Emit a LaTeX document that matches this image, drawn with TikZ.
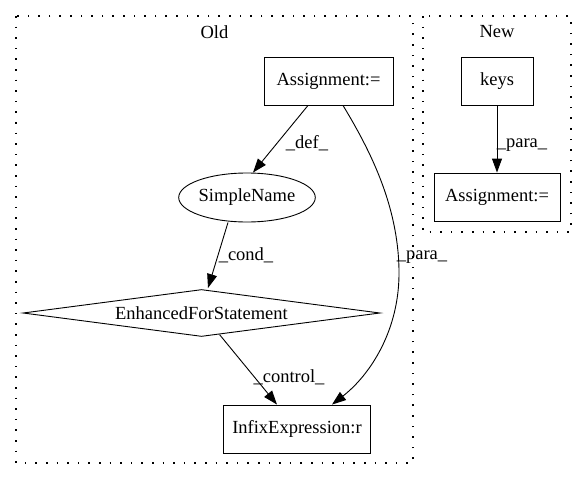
\documentclass[tikz,border=0pt]{standalone}
\usepackage{fontspec}
\setmainfont{Liberation Serif}
\usetikzlibrary{shapes.geometric,arrows.meta,calc}
\begin{document}
\begin{tikzpicture}[x=1pt,y=-1pt,
  every node/.style={font=\fontsize{18.5}{21}\selectfont, inner sep=0pt},
  box/.style={draw, rectangle, line width=0.9pt, minimum height=48pt},
  oval/.style={draw, ellipse, line width=0.9pt, minimum width=132pt, minimum height=49pt},
  dia/.style={draw, diamond, aspect=7.6, line width=0.9pt, minimum width=357pt, minimum height=47pt},
  cluster/.style={line width=1.1pt, dash pattern=on 1.6pt off 9pt},
  edge/.style={line width=0.9pt, -{Triangle[length=14pt,width=10pt]}},
  lbl/.style={font=\fontsize{18.5}{21}\selectfont}
]
\useasboundingbox (0,0) rectangle (587,480);
% clusters
\draw[cluster] (16,16) rectangle (413,463);
\draw[cluster] (423,16) rectangle (571,232);
\node (oldlbl) at (214.5,32) {Old};
\node (newlbl) at (497,32) {New};
% nodes
\node[box, minimum width=129pt] (oldA) at (328.5,81) {Assignment:=};
\node[oval] (sn) at (247,197.5) {SimpleName};
\node[dia] (efs) at (201.5,313) {EnhancedForStatement};
\node[box, minimum width=147pt] (infix) at (297,429) {InfixExpression:r};
\node[box, minimum width=72pt] (keys) at (497,81) {keys};
\node[box, minimum width=126pt] (newA) at (497,197) {Assignment:=};
% edges
\draw[edge] ($(oldA.south)+(-20.5,0)$) -- ($(sn.north)+(6,0)$);
\node[lbl] (ldef) at (307,143) {\_def\_};
\draw[edge] ($(oldA.south)+(14.5,0)$) .. controls (370,150) and (398,205) .. (399,270)
   .. controls (400,330) and (370,375) .. ($(infix.north)+(35,0)$);
\node[lbl] (lpara1) at (422,257) {\_para\_};
\draw[edge] ($(sn.south)+(-19,0)$) -- ($(efs.north)+(6.5,-1)$);
\node[lbl] (lcond) at (246,255) {\_cond\_};
\draw[edge] ($(efs.south)+(18,-2.4)$) -- ($(infix.north)+(-20,0)$);
\node[lbl] (lcontrol) at (289,377) {\_control\_};
\draw[edge] (keys) -- (newA);
\node[lbl] (lpara2) at (522,145) {\_para\_};
\end{tikzpicture}
\end{document}
